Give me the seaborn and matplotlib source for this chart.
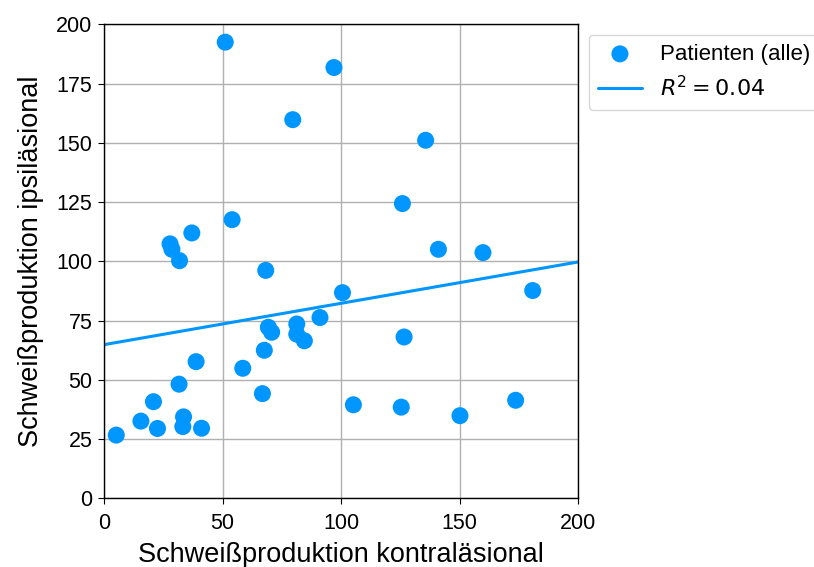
import numpy as np
import pandas as pd
import matplotlib
matplotlib.use("Agg")
import matplotlib.pyplot as plt
import seaborn as sns

kontra = [51.1, 97.0, 79.6, 135.7, 125.9, 54.0, 37.0, 27.8, 28.6, 31.8,
          141.1, 159.9, 68.2, 100.6, 180.9, 91.1, 69.3, 70.7, 81.3, 81.3,
          84.5, 67.6, 126.6, 58.5, 38.8, 31.6, 66.8, 20.8, 105.2, 125.4,
          150.2, 173.7, 15.5, 33.5, 22.5, 33.2, 41.1, 5.1]
ipsi = [192.5, 181.8, 159.8, 151.1, 124.4, 117.6, 112.0, 107.4, 105.1, 100.3,
        105.1, 103.7, 96.2, 86.8, 87.7, 76.3, 72.2, 70.1, 73.6, 69.3,
        66.5, 62.5, 68.1, 54.9, 57.7, 48.2, 44.2, 40.8, 39.5, 38.5,
        34.9, 41.4, 32.6, 34.4, 29.5, 30.3, 29.6, 26.7]

xlabel = "Schweißproduktion kontraläsional"
ylabel = "Schweißproduktion ipsiläsional"
label_points = "Patienten (alle)"

sns.set_style("ticks", {"text.color": "black", "axes.labelcolor": "black",
                        "xtick.color": "black", "ytick.color": "black",
                        "axes.edgecolor": "black"})
plt.rcParams['font.family'] = ['Liberation Sans', 'DejaVu Sans']
plt.rcParams['mathtext.fontset'] = 'dejavusans'

df = pd.DataFrame({"x": kontra, "y": ipsi})
slope, intercept = np.polyfit(df["x"], df["y"], 1)
pred = slope * df["x"] + intercept
r2 = 1 - ((df["y"] - pred) ** 2).sum() / ((df["y"] - df["y"].mean()) ** 2).sum()
line_x = np.linspace(0, 200, 50)
line_df = pd.DataFrame({"x": line_x, "y": slope * line_x + intercept})

color = "#0096FF"
fig = plt.figure(figsize=(8.14, 5.67), dpi=100)
ax = fig.add_axes([0.128, 0.121, 0.582, 0.836])
ax.grid(True, color="#b0b0b0", linewidth=1.0, zorder=0)
ax.set_axisbelow(True)
sns.scatterplot(data=df, x="x", y="y", ax=ax, color=color, s=150,
                edgecolor="none", label=label_points, zorder=3)
sns.lineplot(data=line_df, x="x", y="y", ax=ax, color=color, linewidth=2.2,
             label=f"$R^2 = {r2:.2f}$", zorder=2)
ax.set_xlim(0, 200)
ax.set_ylim(0, 200)
ax.set_xticks([0, 50, 100, 150, 200])
ax.set_yticks([0, 25, 50, 75, 100, 125, 150, 175, 200])
ax.tick_params(labelsize=15.5, length=4.5, color="black", labelcolor="black")
ax.tick_params(axis="x", pad=6)
ax.tick_params(axis="y", pad=4)
for sp in ax.spines.values():
    sp.set_color("black")
    sp.set_linewidth(1.0)
ax.set_xlabel(xlabel, fontsize=19.5, labelpad=6, color="black")
ax.set_ylabel(ylabel, fontsize=19.5, labelpad=9, color="black")
leg = ax.legend(loc="upper left", bbox_to_anchor=(1.023, 0.978), borderaxespad=0,
                fontsize=16, frameon=True, markerscale=1.0)
for t in leg.get_texts():
    t.set_color("black")
fig.savefig("out.png", dpi=100)
